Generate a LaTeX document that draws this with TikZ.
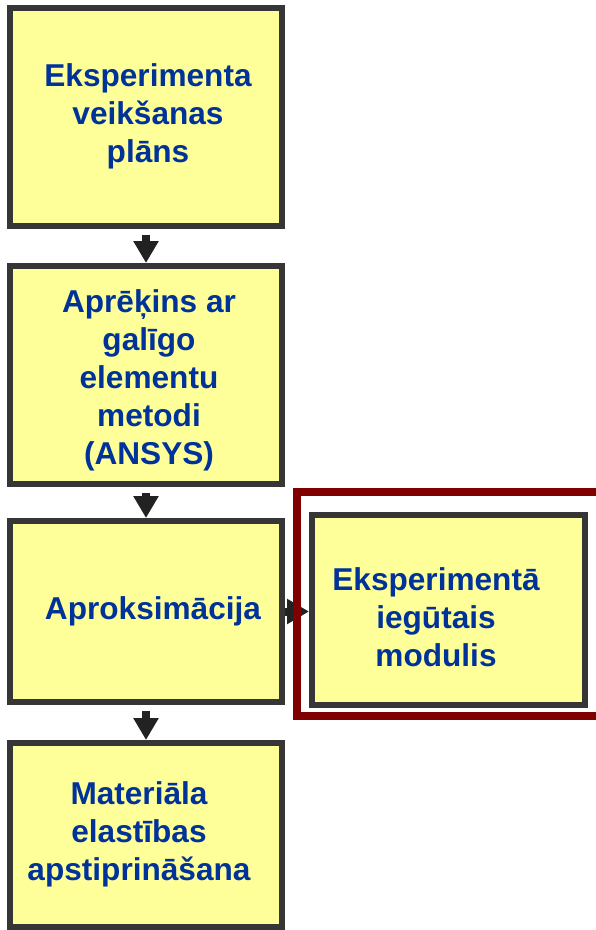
\documentclass[tikz,border=0pt]{standalone}
\usepackage{fontspec}
\setmainfont{Liberation Sans}
\usetikzlibrary{arrows.meta}
\definecolor{fillyel}{HTML}{FFFF99}
\definecolor{edgegray}{HTML}{363636}
\definecolor{txtblue}{HTML}{003399}
\definecolor{framered}{HTML}{800000}
\definecolor{arrowblk}{HTML}{222222}
\begin{document}
\begin{tikzpicture}[x=1pt,y=-1pt,
  box/.style={draw=edgegray,line width=6pt,fill=fillyel,inner sep=0pt},
  lbl/.style={text=txtblue,font=\fontsize{31.6pt}{38pt}\selectfont\bfseries,align=center,inner sep=0pt},
  flow/.style={draw=arrowblk,line width=8pt,-{Triangle[width=24pt,length=22pt]},arrowblk}]
\useasboundingbox[fill=white] (0,0) rectangle (596,930);
\node[box,minimum width=272pt,minimum height=218pt] (b1) at (146,117) {};
\node[box,minimum width=272pt,minimum height=218pt] (b2) at (146,375) {};
\node[box,minimum width=272pt,minimum height=181pt] (b3) at (146,611.5) {};
\node[box,minimum width=272pt,minimum height=184pt] (b4) at (146,835) {};
\node[box,minimum width=273pt,minimum height=190pt] (b5) at (448.5,610) {};
\node[lbl] (t1) at (148,116) {Eksperimenta\\veikšanas\\plāns};
\node[lbl] (t2) at (149,380) {Aprēķins ar\\galīgo\\elementu\\metodi\\(ANSYS)};
\node[lbl] (t3) at (153,611) {Aproksimācija};
\node[lbl] (t4) at (139,834) {Materiāla\\elastības\\apstiprināšana};
\node[lbl] (t5) at (436,617) {Eksperimentā\\iegūtais\\modulis};
\draw[flow,shorten <=6pt] (b1.south) -- (b2.north);
\draw[flow,shorten <=6pt] (b2.south) -- (b3.north);
\draw[flow,shorten <=6pt] (b3.south) -- (b4.north);
\draw[flow] (b3.east) -- (b5.west |- b3.east);
\coordinate (rtop) at (596,492);
\coordinate (rbot) at (596,716);
\draw[framered,line width=8pt] (rtop) -- (297,492) -- (297,716) -- (rbot);
\end{tikzpicture}
\end{document}
